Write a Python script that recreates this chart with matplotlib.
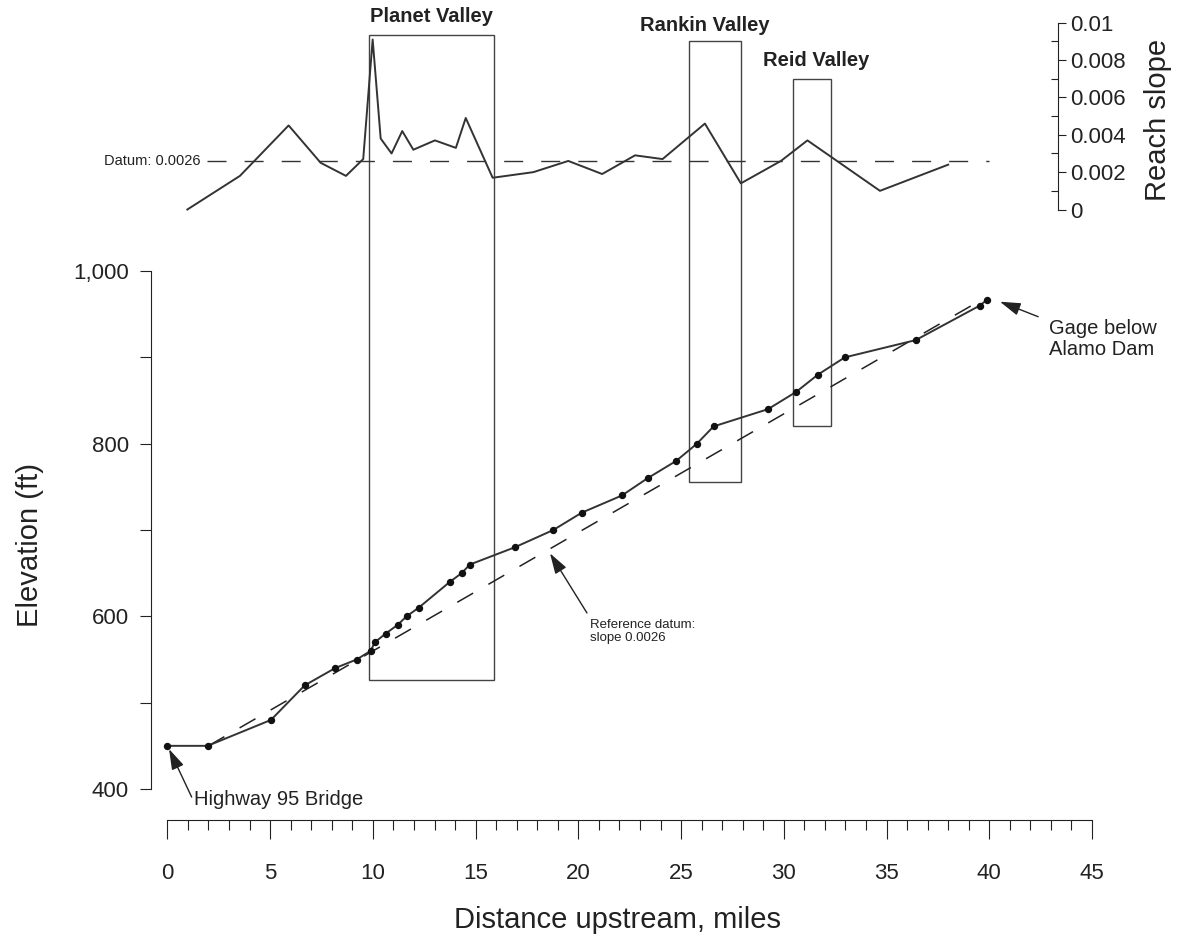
import matplotlib
matplotlib.use("Agg")
import matplotlib.pyplot as plt
from matplotlib.patches import Rectangle
from matplotlib.ticker import FixedLocator, MultipleLocator

plt.rcParams["font.family"] = ["Liberation Sans", "DejaVu Sans"]
plt.rcParams["text.color"] = "#222222"
plt.rcParams["axes.labelcolor"] = "#222222"
plt.rcParams["xtick.color"] = "#222222"
plt.rcParams["ytick.color"] = "#222222"

# water-surface elevation profile (miles upstream, ft)
elev_miles = [0, 1.96, 5.04, 6.68, 8.16, 9.21, 9.89, 10.10, 10.62, 11.20, 11.64, 12.23,
              13.75, 14.32, 14.72, 16.91, 18.78, 20.16, 22.12, 23.37, 24.76, 25.77,
              26.58, 29.23, 30.60, 31.66, 32.97, 36.42, 39.54, 39.90]
elevation = [450, 450, 480, 520, 540, 550, 560, 570, 580, 590, 600, 610,
             640, 650, 660, 680, 700, 720, 740, 760, 780, 800,
             820, 840, 860, 880, 900, 920, 960, 967]

# reference datum line (slope 0.0026)
ref_miles = [2.0, 39.5]
ref_elev = [450, 965]

# reach slope between survey points
slope_miles = [0.97, 3.53, 5.90, 7.46, 8.69, 9.53, 9.99, 10.38, 10.91, 11.43, 11.97, 13.02,
               14.04, 14.52, 15.83, 17.81, 19.51, 21.16, 22.76, 24.10, 26.16, 27.91,
               29.86, 31.15, 34.68, 38.00]
reach_slope = [0.0000, 0.0018, 0.0045, 0.0025, 0.0018, 0.0027, 0.0091, 0.0038, 0.0030,
               0.0042, 0.0032, 0.0037, 0.0033, 0.0049, 0.0017, 0.0020, 0.0026, 0.0019,
               0.0029, 0.0027, 0.0046, 0.0014, 0.0026, 0.0037, 0.0010, 0.0024]
datum_miles = [1.93, 40.0]
datum_slope = 0.0026

# valley boxes (miles, elevation-axis units)
valley_names = ["Planet Valley", "Rankin Valley", "Reid Valley"]
valley_start = [9.83, 25.38, 30.44]
valley_end = [15.89, 27.91, 32.28]
valley_bottom = [526, 756, 820]
valley_top = [1273, 1266, 1223]
valley_label_x = [12.87, 26.16, 31.56]
valley_label_y = [1295, 1285, 1244]

slope_ticks = [0, 0.002, 0.004, 0.006, 0.008, 0.01]
slope_ticklabels = ["0", "0.002", "0.004", "0.006", "0.008", "0.01"]
elev_ticks = [400, 500, 600, 700, 800, 900, 1000]
elev_ticklabels = ["400", "", "600", "", "800", "", "1,000"]

W, H = 1179, 943
fig = plt.figure(figsize=(W / 100, H / 100), dpi=100)
ax = fig.add_axes([167.4 / W, 1 - 789 / H, 924.6 / W, 779 / H])
ax.set_xlim(0, 45)
ax.set_ylim(400, 1302.4)

line_col = "#333333"

# valley boxes and names
for name, x0, x1, y0, y1, lx, ly in zip(valley_names, valley_start, valley_end,
                                        valley_bottom, valley_top, valley_label_x, valley_label_y):
    ax.add_patch(Rectangle((x0, y0), x1 - x0, y1 - y0, fill=False, ec="#444444", lw=1.0))
    ax.text(lx, ly, name, ha="center", va="center", fontsize=14.5, fontweight="bold")

ax.plot(ref_miles, ref_elev, color="#222222", lw=1.1, dashes=(12, 11.5))
ax.plot(elev_miles, elevation, color=line_col, lw=1.4, marker="o", ms=4.3,
        mfc="#111111", mec="#111111", clip_on=False)

# annotations
arrow = dict(arrowstyle="-|>,head_length=0.9,head_width=0.28", color="#222222", lw=1.0,
             shrinkA=0, shrinkB=0, mutation_scale=14)
ax.annotate("", xy=(0.08, 446.3), xytext=(1.18, 390.7), arrowprops=arrow, annotation_clip=False)
ax.text(1.29, 388.4, "Highway 95 Bridge", ha="left", va="center", fontsize=14.5)
ax.annotate("", xy=(18.62, 673), xytext=(20.42, 603.9), arrowprops=arrow, annotation_clip=False)
ax.text(20.57, 597, "Reference datum:\nslope 0.0026", ha="left", va="top", fontsize=9.5,
        linespacing=1.15)
ax.annotate("", xy=(40.52, 964.5), xytext=(42.38, 947.1), arrowprops=arrow, annotation_clip=False)
ax.text(42.9, 921.3, "Gage below\nAlamo Dam", ha="left", va="center", fontsize=14.5,
        linespacing=1.15)

# main axes styling
for side in ["top", "right"]:
    ax.spines[side].set_visible(False)
ax.spines["left"].set_position(("outward", 11.8))
ax.spines["left"].set_bounds(400, 1000)
ax.spines["bottom"].set_position(("outward", 22.3))
for side in ["left", "bottom"]:
    ax.spines[side].set_color("#222222")
    ax.spines[side].set_linewidth(0.8)

ax.set_xticks(range(0, 46, 5))
ax.xaxis.set_minor_locator(MultipleLocator(1))
ax.tick_params(axis="x", which="major", length=13.7, width=0.8, pad=17, labelsize=16)
ax.tick_params(axis="x", which="minor", length=7, width=0.8)
ax.set_yticks(elev_ticks)
ax.set_yticklabels(elev_ticklabels)
ax.tick_params(axis="y", length=8, width=0.8, pad=8, labelsize=16)

ax.set_xlabel("Distance upstream, miles", fontsize=21)
ax.xaxis.set_label_coords(0.487, -0.168)
ax.xaxis.label.set_va("center")
ax.set_ylabel("Elevation (ft)", fontsize=21)
ax.yaxis.set_label_coords(-0.1486, 0.3132)
ax.yaxis.label.set_va("center")

# reach slope panel on a twin axis
ax2 = ax.twinx()
ax2.set_ylim(-0.03102, 0.01068)
ax2.plot(slope_miles, reach_slope, color=line_col, lw=1.4)
ax2.plot(datum_miles, [datum_slope] * 2, color=line_col, lw=1.0, dashes=(13.7, 13))
ax2.text(1.63, datum_slope, "Datum: 0.0026", ha="right", va="center", fontsize=10.5)

for side in ["top", "left", "bottom"]:
    ax2.spines[side].set_visible(False)
ax2.spines["right"].set_position(("axes", 0.9632))
ax2.spines["right"].set_bounds(0, 0.01)
ax2.spines["right"].set_color("#222222")
ax2.spines["right"].set_linewidth(0.8)
ax2.set_yticks(slope_ticks)
ax2.set_yticklabels(slope_ticklabels)
ax2.yaxis.set_minor_locator(FixedLocator([0.001, 0.003, 0.005, 0.007, 0.009]))
ax2.tick_params(axis="y", which="major", length=5.5, width=0.8, pad=3.5, labelsize=16)
ax2.tick_params(axis="y", which="minor", length=4.7, width=0.8, direction="in")
ax2.set_ylabel("Reach slope", fontsize=21)
ax2.yaxis.set_label_coords(1.0714, 0.8588)
ax2.yaxis.label.set_va("center")

fig.savefig("out.png", dpi=100)
